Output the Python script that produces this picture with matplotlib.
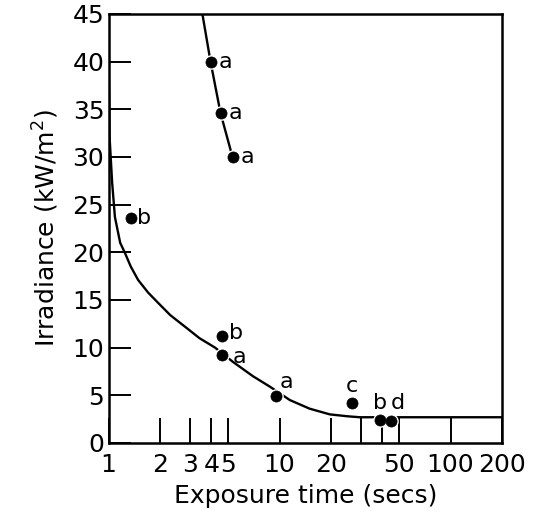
import matplotlib
matplotlib.use("Agg")
import matplotlib.pyplot as plt

plt.rcParams['font.family'] = ['DejaVu Sans']

# measured exposures: (time s, irradiance kW/m2, label)
pt_time = [3.95, 4.52, 5.31, 1.36, 4.58, 4.64, 9.6, 26.7, 38.5, 45.0]
pt_irr = [40.0, 34.6, 30.0, 23.6, 11.2, 9.2, 4.9, 4.2, 2.4, 2.3]
pt_lab = ['a', 'a', 'a', 'b', 'b', 'a', 'a', 'c', 'b', 'd']
# label offsets in pixels (dx, dy, ha)
lab_off = [(8, 0, 'left'), (8, 0, 'left'), (8, 0, 'left'), (6, 0, 'left'),
           (7, 3, 'left'), (10, -2, 'left'), (10, 14, 'center'), (-1, 17, 'center'),
           (0, 17, 'center'), (7, 18, 'center')]

# threshold curve
curve_time = [1.0, 1.005, 1.015, 1.05, 1.09, 1.17, 1.25, 1.35, 1.49, 1.7, 1.95,
              2.3, 2.8, 3.4, 4.2, 5.35, 7.0, 8.8, 11.5, 15.0, 19.7, 25.0, 29.5,
              40.0, 60.0, 100.0, 200.0]
curve_irr = [45.0, 38.0, 32.0, 27.3, 23.7, 21.0, 19.9, 18.5, 17.1, 15.8, 14.7,
             13.4, 12.2, 11.0, 10.0, 8.5, 7.0, 5.9, 4.5, 3.6, 3.0, 2.8, 2.7,
             2.7, 2.7, 2.7, 2.7]
# high irradiance branch
upper_time = [3.54, 3.95, 4.52, 5.31]
upper_irr = [45.0, 40.0, 34.6, 30.0]

fig = plt.figure(figsize=(5.33, 5.16), dpi=100)
ax = fig.add_axes([0.2036, 0.1415, 0.7382, 0.8314])

ax.plot(curve_time, curve_irr, color='black', lw=1.7, zorder=2,
        solid_joinstyle='round')
ax.plot(upper_time, upper_irr, color='black', lw=1.7, zorder=2)
ax.plot(pt_time, pt_irr, 'o', color='black', ms=8, mec='white', mew=2.5, zorder=3)
ax.plot(pt_time, pt_irr, 'o', color='black', ms=8, mec='black', mew=0.5, zorder=4)

for t, v, s, (dx, dy, ha) in zip(pt_time, pt_irr, pt_lab, lab_off):
    ax.annotate(s, (t, v), xytext=(dx, dy), textcoords='offset pixels',
                ha=ha, va='center', fontsize=16, zorder=5)

ax.set_xscale('log')
ax.set_xlim(1, 200)
ax.set_ylim(0, 45)

ax.set_xticks([1, 2, 3, 4, 5, 10, 20, 30, 40, 50, 100, 200])
ax.set_xticklabels(['1', '2', '3', '4', '5', '10', '20', '', '', '50', '100', '200'])
ax.xaxis.set_minor_locator(plt.NullLocator())
ax.set_yticks(range(0, 46, 5))

ax.tick_params(axis='both', direction='in', length=18, width=1.4, labelsize=18,
               colors='black')
ax.tick_params(axis='x', pad=7)
ax.tick_params(axis='y', length=16, pad=3)
for sp in ax.spines.values():
    sp.set_linewidth(1.8)

ax.set_xlabel('Exposure time (secs)', fontsize=18, labelpad=5)
ax.set_ylabel('Irradiance (kW/m$^2$)', fontsize=18, labelpad=8)

fig.savefig('out.png', dpi=100)
